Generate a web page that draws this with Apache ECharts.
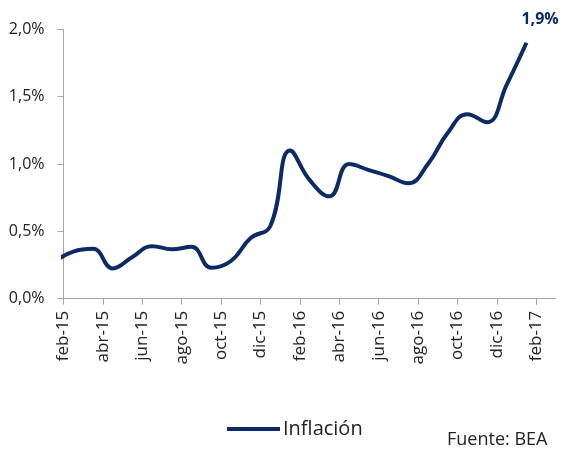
<!DOCTYPE html>
<html>
<head>
<meta charset="utf-8">
<script src="https://cdn.jsdelivr.net/npm/echarts@6/dist/echarts.min.js"></script>
<style>
html, body { margin: 0; padding: 0; background: #fff; }
#container { width: 564px; height: 452px; }
</style>
</head>
<body>
<div id="container"></div>
<script>
// meses de los datos (ene-15 .. ene-17), inflacion interanual en %
var meses = ['ene-15','feb-15','mar-15','abr-15','may-15','jun-15','jul-15','ago-15','sep-15','oct-15','nov-15','dic-15',
	'ene-16','feb-16','mar-16','abr-16','may-16','jun-16','jul-16','ago-16','sep-16','oct-16','nov-16','dic-16','ene-17'];
var inflacion = [0.27, 0.35, 0.37, 0.225, 0.31, 0.39, 0.367, 0.385, 0.23, 0.28, 0.45, 0.54,
	1.10, 0.88, 0.76, 1.0, 0.955, 0.91, 0.857, 1.0, 1.23, 1.37, 1.31, 1.59, 1.9];
// etiquetas del eje x (cada 2 meses, desde feb-15)
var etiquetasX = ['feb-15','abr-15','jun-15','ago-15','oct-15','dic-15','feb-16','abr-16','jun-16','ago-16','oct-16','dic-16','feb-17'];

var azul = '#0b2a66';
var gris = '#a6a6a6';
var fuente = 'Open Sans';

function pct(v){
	return v.toFixed(1).replace('.', ',') + '%';
}

var posTicks = etiquetasX.map(function(e, i){ return i * 2; });

// cada dato a mitad de mes; el eje empieza el 1 de feb-15
var serie = inflacion.map(function(v, i){
	return [i - 1 + 0.5, v];
});

var dom = document.getElementById("container");
var myChart = echarts.init(dom);
var option = {
	animation: false,
	backgroundColor: '#fff',
	grid: {
		left: 63.5,
		top: 29.3,
		width: 492.5,
		height: 269.4,
		containLabel: false
	},
	legend: {
		data: ['Inflación'],
		left: 222,
		top: 414,
		icon: 'rect',
		itemWidth: 53,
		itemHeight: 4,
		itemGap: 4,
		textStyle: { fontFamily: fuente, fontSize: 20, color: '#222', padding: [0, 0, 0, -2] }
	},
	graphic: [{
		type: 'text',
		left: 447,
		top: 431,
		style: { text: 'Fuente: BEA', fontFamily: fuente, fontSize: 18, fill: '#222' }
	}],
	xAxis: {
		type: 'value',
		min: 0,
		max: 25,
		splitLine: { show: false },
		axisLine: { show: true, lineStyle: { color: gris, width: 1 } },
		axisTick: { show: true, length: 6, lineStyle: { color: gris }, customValues: posTicks },
		axisLabel: {
			customValues: posTicks,
			rotate: 90,
			margin: 12,
			fontFamily: fuente,
			fontSize: 17,
			color: '#222',
			formatter: function(v){ return etiquetasX[Math.round(v / 2)] || ''; }
		}
	},
	yAxis: {
		type: 'value',
		min: 0,
		max: 2,
		interval: 0.5,
		splitLine: { show: false },
		axisLine: { show: true, lineStyle: { color: gris, width: 1 } },
		axisTick: { show: true, length: 6, lineStyle: { color: gris } },
		axisLabel: {
			margin: 19,
			fontFamily: fuente,
			fontSize: 16,
			color: '#222',
			formatter: function(v){ return pct(v); }
		}
	},
	series: [{
		name: 'Inflación',
		type: 'line',
		data: serie,
		smooth: 0.45,
		clip: true,
		showSymbol: false,
		symbol: 'none',
		lineStyle: { color: azul, width: 4 },
		itemStyle: { color: azul },
		endLabel: {
			show: true,
			offset: [-13, -23],
			formatter: function(p){ return pct(p.value[1]); },
			color: azul,
			fontFamily: fuente,
			fontWeight: 'bold',
			fontSize: 16
		}
	}]
};
if (option && typeof option === "object") {
	myChart.setOption(option, true);
}
</script>
</body>
</html>
